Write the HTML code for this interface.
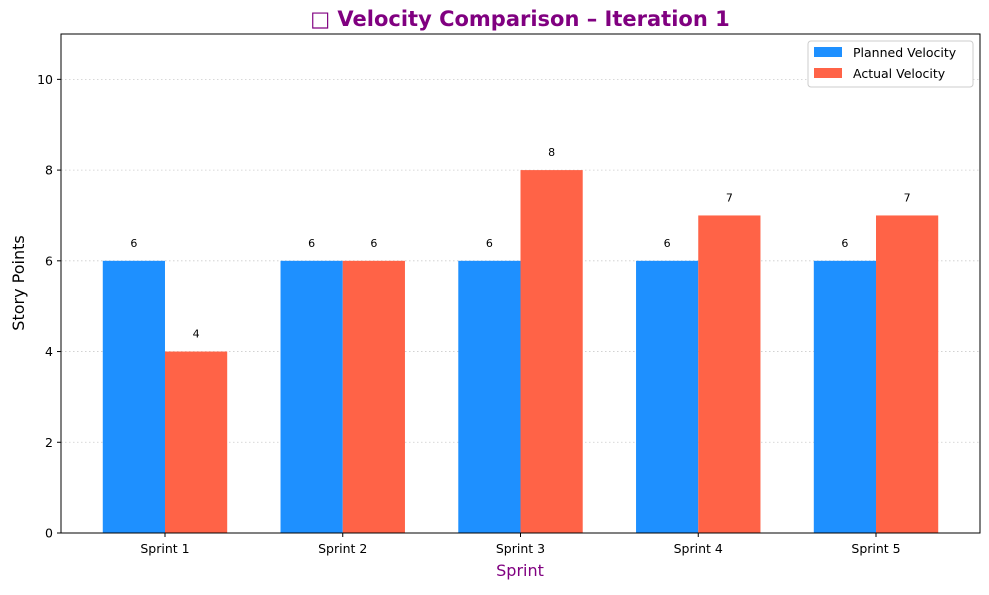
<!DOCTYPE html>
<html><head><meta charset="utf-8"><style>
body{margin:0;background:#fff}
text{font-family:"DejaVu Sans","Liberation Sans",sans-serif}
</style></head><body>
<svg id="chart" width="989" height="590" xmlns="http://www.w3.org/2000/svg">
<rect width="989" height="590" fill="#fff"/>
<text x="520" y="26" text-anchor="middle" font-size="21" font-weight="bold" fill="#800080">□ Velocity Comparison – Iteration 1</text>
<g id="grid"></g>
<g id="bars"></g>
<g id="axes"></g>
<text x="520" y="576" text-anchor="middle" font-size="16" fill="#800080">Sprint</text>
<text transform="translate(24,283) rotate(-90)" text-anchor="middle" font-size="16" fill="#000">Story Points</text>
<g>
<rect x="808" y="41" width="165" height="46" fill="#fff" stroke="#ccc" rx="3"/>
<rect x="814" y="47" width="28" height="10" fill="#1E90FF"/>
<text x="853" y="57" font-size="12.5">Planned Velocity</text>
<rect x="814" y="68" width="28" height="10" fill="#FF6347"/>
<text x="853" y="78" font-size="12.5">Actual Velocity</text>
</g>
</svg>
<script>
const categories=["Sprint 1","Sprint 2","Sprint 3","Sprint 4","Sprint 5"];
const planned=[6,6,6,6,6];
const actual=[4,6,8,7,7];
const yTicks=[0,2,4,6,8,10];
const L=61,R=980,T=34,B=533,ymax=11,xmin=-0.585,xmax=4.585,bw=0.35;
const ns="http://www.w3.org/2000/svg";
const xs=v=>L+(v-xmin)/(xmax-xmin)*(R-L);
const ys=v=>B-v/ymax*(B-T);
function mk(tag,at,parent,txt){const e=document.createElementNS(ns,tag);for(const k in at)e.setAttribute(k,at[k]);if(txt!==undefined)e.textContent=txt;document.getElementById(parent).appendChild(e);return e;}
yTicks.forEach(t=>{
 if(t>0){const g=mk('line',{x1:L,x2:R,y1:ys(t),y2:ys(t),stroke:'#ccc','stroke-dasharray':'1.5,2.5','stroke-width':0.8},'grid');
 
 }
 const tk=mk('line',{x1:L-4,x2:L,y1:ys(t),y2:ys(t),stroke:'#000'},'axes');
 
 
 const lb=mk('text',{x:L-8,y:ys(t)+4.5,'text-anchor':'end','font-size':12.5},'axes',t);
 
 
});
categories.forEach((c,i)=>{
 [[planned,-bw,'#1E90FF','planned'],[actual,0,'#FF6347','actual']].forEach(([arr,off,col,nm])=>{
  const x0=xs(i+off),x1=xs(i+off+bw),v=arr[i];
  const r=mk('rect',{x:x0,y:ys(v),width:x1-x0,height:B-ys(v),fill:col},'bars');
  
  
  const t=mk('text',{x:(x0+x1)/2,y:ys(v)-14,'text-anchor':'middle','font-size':11},'bars',v);
  
  
 });
 const tk=mk('line',{x1:xs(i),x2:xs(i),y1:B,y2:B+4,stroke:'#000'},'axes');
 
 
 const lb=mk('text',{x:xs(i),y:B+20,'text-anchor':'middle','font-size':12.5},'axes',c);
 
 
});
const fr=mk('rect',{x:L,y:T,width:R-L,height:B-T,fill:'none',stroke:'#000','stroke-width':1},'axes');


</script>
</body></html>
